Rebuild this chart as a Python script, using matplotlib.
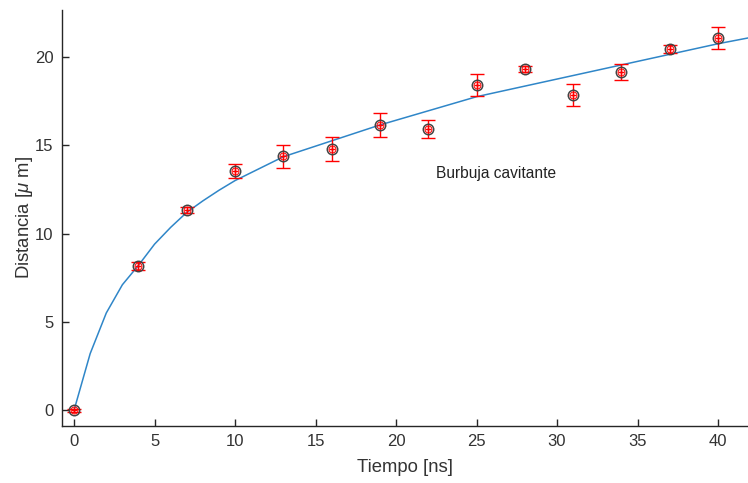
import numpy as np
import matplotlib
matplotlib.use('Agg')
import matplotlib.pyplot as plt

plt.rcParams['font.family'] = ['Liberation Sans', 'DejaVu Sans']
plt.rcParams['mathtext.fontset'] = 'custom'
plt.rcParams['mathtext.it'] = 'Liberation Sans:italic'
plt.rcParams['mathtext.rm'] = 'Liberation Sans'

# Medidas: tiempo (ns), distancia (um) y su incertidumbre
tiempo = [0, 4, 7, 10, 13, 16, 19, 22, 25, 28, 31, 34, 37, 40]
distancia = [0.0, 8.16, 11.33, 13.54, 14.39, 14.79, 16.15, 15.92, 18.41, 19.32, 17.85, 19.15, 20.45, 21.08]
error = [0.08, 0.2, 0.17, 0.4, 0.65, 0.7, 0.68, 0.52, 0.62, 0.15, 0.62, 0.48, 0.24, 0.63]

# Curva de ajuste
t_ajuste = [0, 1, 2, 3, 4, 5, 6, 7, 8, 9, 10, 13, 16, 19, 22, 25, 28, 31, 34, 37, 40, 42]
d_ajuste = [0.0, 3.2, 5.5, 7.1, 8.2, 9.4, 10.35, 11.2, 11.85, 12.45, 13.0, 14.35, 15.25,
            16.15, 16.95, 17.75, 18.35, 18.95, 19.55, 20.15, 20.75, 21.1]

gris = '#333333'

fig = plt.figure(figsize=(7.48, 4.83), dpi=100)
ax = fig.add_axes([62 / 748, 57 / 483, 686 / 748, 416 / 483])

ax.plot(t_ajuste, d_ajuste, color='#2F86C8', lw=1.1, zorder=2)
ax.errorbar(tiempo, distancia, yerr=error, fmt='none', ecolor='red',
            elinewidth=1.0, capsize=5, capthick=1.0, zorder=3)
ax.plot(tiempo, distancia, 'o', ms=7.5, mfc='none', mec='#444444', mew=1.1, zorder=4)
ax.plot(tiempo, distancia, '+', ms=5, color='red', mew=1.0, zorder=5)
ax.plot(tiempo, distancia, 'o', ms=5, mfc='none', mec='red', mew=0.7, zorder=5)

ax.text(22.5, 13.4, 'Burbuja cavitante', fontsize=11.2, color='#222222',
        ha='left', va='center')

ax.set_xlim(-0.75, 41.86)
ax.set_ylim(-0.9, 22.66)
ax.set_xticks(np.arange(0, 41, 5))
ax.set_yticks(np.arange(0, 21, 5))

for lado in ['top', 'right']:
    ax.spines[lado].set_visible(False)
for lado in ['left', 'bottom']:
    ax.spines[lado].set_color('#262626')
    ax.spines[lado].set_linewidth(1.0)

ax.tick_params(direction='in', length=5, width=1.0, color='#262626',
               labelcolor=gris, labelsize=12, pad=6)

ax.set_xlabel('Tiempo [ns]', fontsize=13.3, color=gris, labelpad=7)
ax.set_ylabel('Distancia [$\\mu$ m]', fontsize=13.3, color=gris, labelpad=0)

fig.savefig('out.png', dpi=100)
